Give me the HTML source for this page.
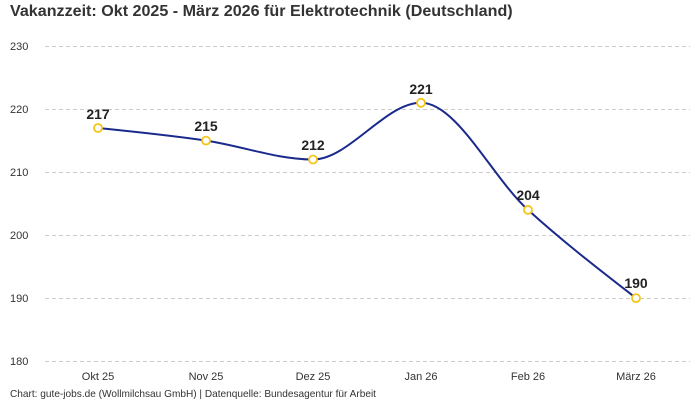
<!DOCTYPE html>
<html><head><meta charset="utf-8"><style>
body{margin:0;background:#fff;}
svg{display:block;font-family:"Liberation Sans",sans-serif;}
</style></head><body>
<svg width="700" height="400" viewBox="0 0 700 400">
<text x="10" y="16" font-size="16.1" font-weight="bold" fill="#333">Vakanzzeit: Okt 2025 - März 2026 für Elektrotechnik (Deutschland)</text>
<g stroke="#ccc" stroke-dasharray="4,3" stroke-width="1">
<line x1="45" x2="690" y1="46.5" y2="46.5"/>
<line x1="45" x2="690" y1="109.5" y2="109.5"/>
<line x1="45" x2="690" y1="172.5" y2="172.5"/>
<line x1="45" x2="690" y1="235.5" y2="235.5"/>
<line x1="45" x2="690" y1="298.5" y2="298.5"/>
<line x1="45" x2="690" y1="361.5" y2="361.5"/>
</g>
<g font-size="11" fill="#333">
<text x="10" y="50">230</text><text x="10" y="113">220</text><text x="10" y="176">210</text>
<text x="10" y="239">200</text><text x="10" y="302">190</text><text x="10" y="365">180</text>
</g>
<g font-size="11" fill="#333" text-anchor="middle">
<text x="98" y="380">Okt 25</text><text x="206" y="380">Nov 25</text><text x="313" y="380">Dez 25</text>
<text x="421" y="380">Jan 26</text><text x="528" y="380">Feb 26</text><text x="636" y="380">März 26</text>
</g>
<path d="M98,128 C133.9,131.7 170.1,135.3 206,140.6 C241.9,145.9 277.1,159.5 313,159.5 C348.9,159.5 385.1,102.8 421,102.8 C456.9,102.8 492.1,177.3 528,209.9 C563.9,242.5 600.1,270.2 636,298.1" fill="none" stroke="#1a2a8c" stroke-width="2"/>
<g fill="#fff" stroke="#f5c518" stroke-width="1.8">
<circle cx="98" cy="128" r="4"/><circle cx="206" cy="140.6" r="4"/><circle cx="313" cy="159.5" r="4"/>
<circle cx="421" cy="102.8" r="4"/><circle cx="528" cy="209.9" r="4"/><circle cx="636" cy="298.1" r="4"/>
</g>
<g font-size="14" font-weight="bold" fill="#222" text-anchor="middle">
<text x="98" y="119">217</text><text x="206" y="131">215</text><text x="313" y="150">212</text>
<text x="421" y="94">221</text><text x="528" y="200">204</text><text x="636" y="288">190</text>
</g>
<text x="10" y="397" font-size="10.1" fill="#333">Chart: gute-jobs.de (Wollmilchsau GmbH) | Datenquelle: Bundesagentur für Arbeit</text>
</svg>
</body></html>
